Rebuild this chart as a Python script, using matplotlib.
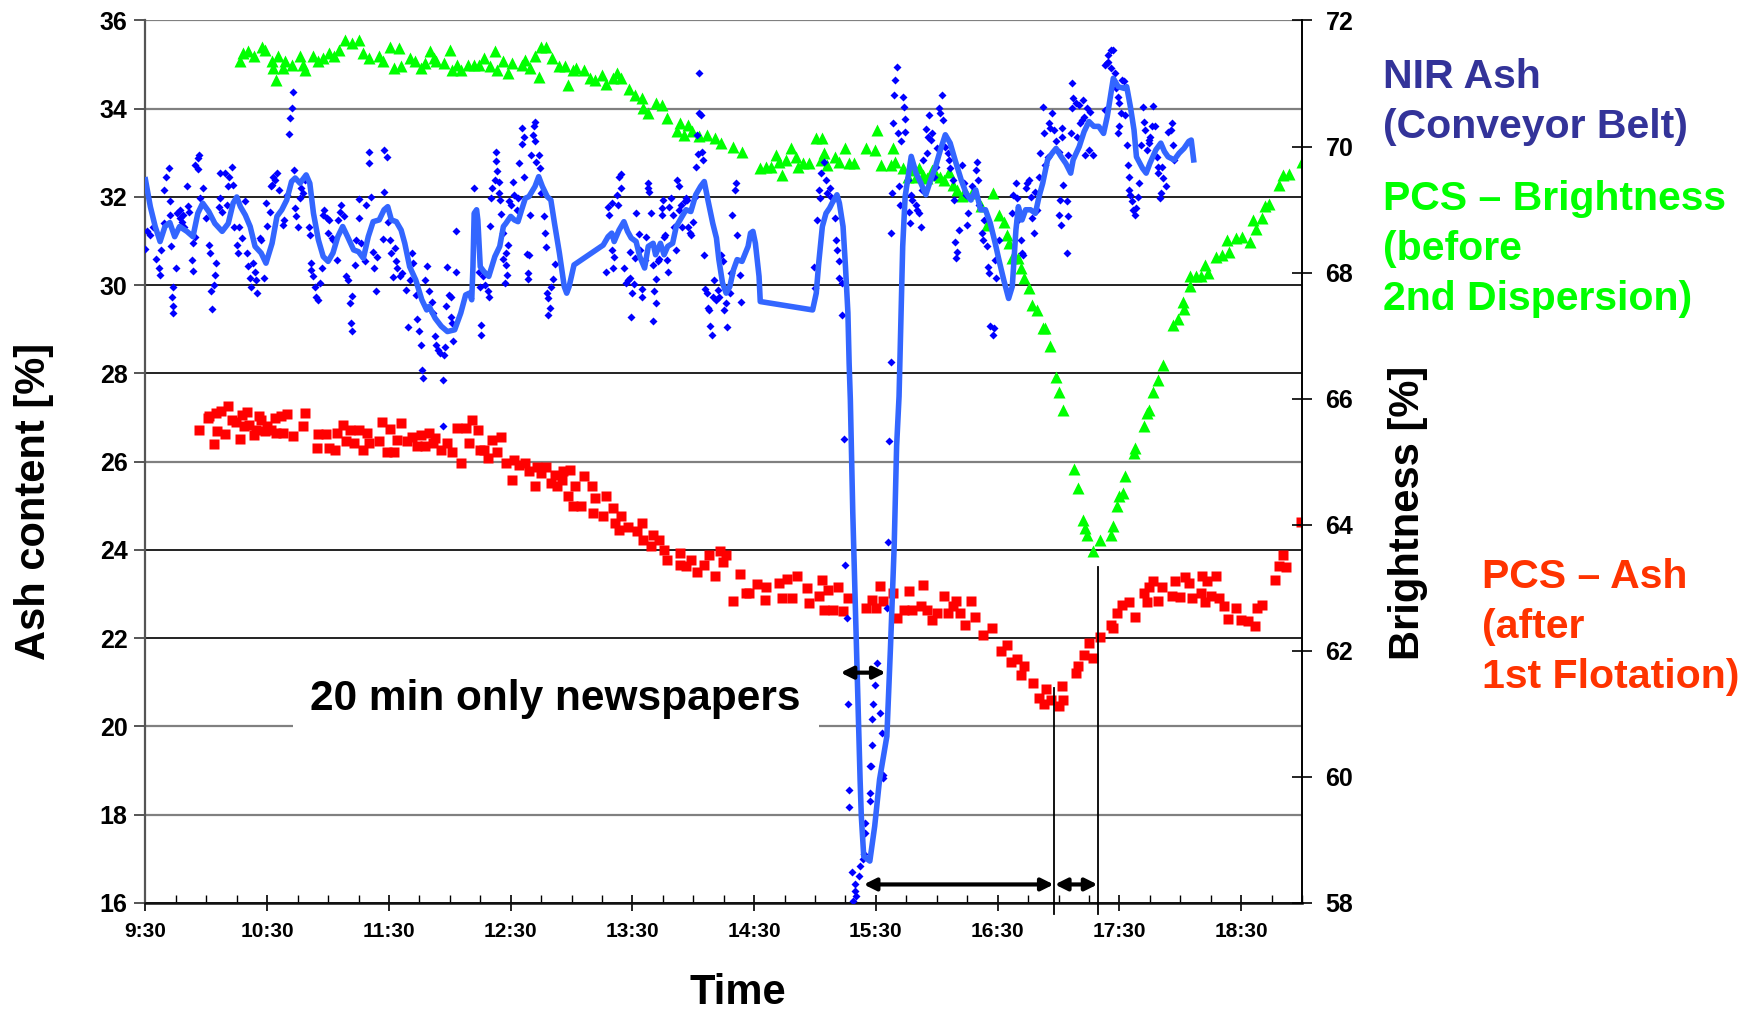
import matplotlib
matplotlib.use('Agg')
import matplotlib.pyplot as plt
from matplotlib.ticker import FixedLocator, MultipleLocator, FuncFormatter

plt.rcParams['font.family'] = ['Liberation Sans', 'DejaVu Sans']
plt.rcParams['font.weight'] = 'bold'

# Times are decimal hours of the day (9.5 = 9:30)

# NIR ash, single readings on the conveyor belt (left axis)
nir_time = [
    9.51, 9.50, 9.54, 9.56, 9.59, 9.61, 9.62, 9.63, 9.65, 9.65, 9.67, 9.69, 9.70, 9.70, 9.71, 9.73, 9.72, 9.73, 9.73, 9.75,
    9.76, 9.78, 9.78, 9.80, 9.81, 9.82, 9.84, 9.85, 9.86, 9.88, 9.89, 9.89, 9.91, 9.91, 9.93, 9.94, 9.93, 9.95, 9.97, 10.00,
    10.02, 10.03, 10.04, 10.05, 10.06, 10.07, 10.08, 10.10, 10.11, 10.11, 10.13, 10.15, 10.17, 10.18, 10.19, 10.21, 10.22, 10.23, 10.25, 10.26,
    10.27, 10.29, 10.32, 10.33, 10.34, 10.36, 10.37, 10.38, 10.40, 10.41, 10.42, 10.44, 10.45, 10.47, 10.49, 10.50, 10.52, 10.53, 10.54, 10.55,
    10.56, 10.58, 10.60, 10.63, 10.64, 10.66, 10.68, 10.69, 10.70, 10.71, 10.72, 10.73, 10.74, 10.75, 10.77, 10.78, 10.79, 10.81, 10.84, 10.85,
    10.86, 10.86, 10.88, 10.89, 10.90, 10.92, 10.93, 10.95, 10.96, 10.97, 10.99, 11.00, 11.01, 11.03, 11.04, 11.07, 11.08, 11.10, 11.11, 11.13,
    11.15, 11.16, 11.18, 11.19, 11.20, 11.20, 11.22, 11.23, 11.25, 11.25, 11.27, 11.30, 11.31, 11.34, 11.34, 11.35, 11.37, 11.38, 11.39, 11.40,
    11.45, 11.46, 11.46, 11.48, 11.49, 11.51, 11.52, 11.53, 11.55, 11.56, 11.57, 11.59, 11.61, 11.64, 11.66, 11.67, 11.69, 11.70, 11.72, 11.73,
    11.75, 11.76, 11.77, 11.78, 11.80, 11.81, 11.83, 11.85, 11.86, 11.88, 11.89, 11.90, 11.92, 11.94, 11.95, 11.96, 11.97, 11.98, 11.99, 12.01,
    12.03, 12.05, 12.05, 11.94, 12.01, 12.02, 12.20, 12.24, 12.25, 12.26, 12.26, 12.27, 12.29, 12.31, 12.32, 12.33, 12.34, 12.35, 12.37, 12.38,
    12.38, 12.39, 12.40, 12.40, 12.41, 12.42, 12.44, 12.44, 12.45, 12.46, 12.46, 12.47, 12.48, 12.49, 12.50, 12.52, 12.53, 12.55, 12.56, 12.57,
    12.59, 12.59, 12.61, 12.61, 12.63, 12.64, 12.64, 12.65, 12.66, 12.67, 12.68, 12.69, 12.70, 12.70, 12.71, 12.73, 12.74, 12.75, 12.77, 12.78,
    12.79, 12.80, 12.81, 12.81, 12.82, 12.83, 12.85, 12.86, 13.28, 13.30, 13.31, 13.33, 13.33, 13.34, 13.35, 13.37, 13.38, 13.39, 13.41, 13.41,
    13.43, 13.45, 13.46, 13.48, 13.48, 13.49, 13.50, 13.51, 13.52, 13.53, 13.55, 13.56, 13.58, 13.58, 13.60, 13.61, 13.63, 13.63, 13.64, 13.65,
    13.67, 13.67, 13.68, 13.69, 13.69, 13.71, 13.72, 13.74, 13.74, 13.75, 13.76, 13.77, 13.78, 13.79, 13.80, 13.82, 13.83, 13.84, 13.86, 13.87,
    13.88, 13.88, 13.90, 13.91, 13.93, 13.94, 13.95, 13.96, 13.97, 13.98, 14.00, 14.01, 14.02, 14.03, 14.04, 14.05, 14.06, 14.07, 14.08, 14.05,
    14.09, 14.10, 14.11, 14.12, 14.13, 14.14, 14.15, 14.16, 14.17, 14.19, 14.20, 14.21, 14.23, 14.24, 14.25, 14.27, 14.28, 14.30, 14.31, 14.32,
    14.34, 14.35, 14.36, 14.38, 14.39, 14.99, 15.00, 15.02, 15.03, 15.04, 15.05, 15.07, 15.09, 15.10, 15.12, 15.13, 15.16, 15.17, 15.18, 15.20,
    15.20, 15.22, 15.22, 15.62, 15.62, 15.63, 15.64, 15.65, 15.66, 15.67, 15.68, 15.69, 15.70, 15.71, 15.72, 15.73, 15.74, 15.74, 15.76, 15.77,
    15.78, 15.79, 15.80, 15.83, 15.84, 15.85, 15.87, 15.88, 15.89, 15.91, 15.92, 15.93, 15.94, 15.95, 15.96, 15.98, 15.99, 16.00, 16.02, 16.03,
    16.04, 16.05, 16.07, 16.09, 16.10, 16.11, 16.13, 16.14, 16.15, 16.16, 16.17, 16.18, 16.21, 16.22, 16.24, 16.25, 16.26, 16.29, 16.32, 16.33,
    16.34, 16.35, 16.37, 16.38, 16.39, 16.41, 16.42, 16.43, 16.44, 16.46, 16.47, 16.48, 16.49, 16.51, 16.62, 16.63, 16.65, 16.66, 16.67, 16.69,
    16.70, 16.71, 16.73, 16.74, 16.76, 16.77, 16.78, 16.80, 16.81, 16.82, 16.84, 16.85, 16.87, 16.88, 16.89, 16.91, 16.92, 16.93, 16.95, 16.96,
    16.98, 17.00, 17.03, 17.03, 17.04, 17.07, 17.08, 17.02, 17.07, 17.08, 17.10, 17.11, 17.11, 17.12, 17.14, 17.15, 17.17, 17.18, 17.19, 17.20,
    17.21, 17.22, 17.23, 17.25, 17.26, 17.28, 17.38, 17.38, 17.40, 17.41, 17.41, 17.43, 17.43, 17.45, 17.46, 17.47, 17.49, 17.50, 17.51, 17.52,
    17.54, 17.55, 17.50, 17.49, 17.56, 17.57, 17.58, 17.58, 17.59, 17.60, 17.61, 17.63, 17.64, 17.65, 17.66, 17.68, 17.69, 17.70, 17.71, 17.73,
    17.74, 17.74, 17.75, 17.77, 17.78, 17.79, 17.81, 17.82, 17.82, 17.84, 17.83, 17.85, 17.86, 17.88, 17.90, 17.92, 17.93, 17.94, 17.95, 17.01,
    17.00, 15.24, 15.61, 15.60, 15.25, 15.26, 15.59, 15.51, 15.49, 15.27, 15.48, 15.53, 15.47, 15.55, 15.47, 15.46, 15.56, 15.28, 15.28, 15.45,
    15.45, 15.45, 15.56, 15.41, 15.41, 15.40, 15.39, 15.37, 15.30, 15.36, 15.33, 15.33, 15.34, 15.31,
]
nir_ash = [
    31.22, 30.82, 31.14, 31.33, 30.59, 30.39, 30.24, 30.79, 31.40, 32.16, 32.46, 32.65, 31.90, 31.59, 30.88, 29.96, 29.73, 29.53, 29.37, 30.39,
    31.63, 31.52, 31.71, 31.44, 31.59, 31.33, 32.24, 31.80, 31.67, 30.58, 30.33, 30.95, 31.10, 32.73, 32.88, 32.95, 32.63, 31.97, 32.20, 31.52,
    30.91, 30.74, 29.88, 29.47, 30.01, 30.24, 30.50, 31.78, 32.55, 31.97, 31.67, 32.54, 31.82, 32.24, 32.46, 32.67, 32.27, 31.33, 30.91, 30.73,
    31.33, 31.07, 31.90, 30.73, 30.44, 30.16, 29.97, 30.50, 30.31, 30.12, 29.82, 31.07, 31.03, 30.16, 31.86, 31.35, 31.67, 32.24, 32.27, 32.46,
    32.39, 32.54, 32.16, 31.37, 31.48, 32.05, 33.43, 33.78, 34.01, 34.37, 32.61, 31.74, 31.56, 31.33, 31.97, 32.20, 32.09, 32.39, 31.33, 31.14,
    30.51, 30.35, 30.20, 29.97, 29.74, 29.67, 30.05, 30.39, 31.59, 31.71, 31.52, 31.18, 31.48, 31.07, 31.03, 30.58, 31.48, 31.67, 31.82, 31.56,
    30.20, 30.12, 29.59, 29.14, 28.97, 29.76, 30.46, 31.03, 31.52, 31.95, 30.95, 30.54, 31.82, 33.01, 32.78, 32.01, 30.76, 30.39, 29.88, 30.65,
    31.04, 32.12, 33.07, 32.90, 31.44, 31.03, 30.73, 30.18, 30.84, 30.54, 30.39, 30.20, 30.27, 29.90, 29.05, 30.12, 30.73, 30.51, 29.78, 29.23,
    28.97, 28.65, 28.08, 27.89, 30.12, 30.44, 29.86, 29.63, 29.37, 28.85, 28.65, 28.54, 28.46, 27.86, 28.42, 28.61, 29.52, 30.42, 29.78, 29.29,
    28.73, 30.31, 31.24, 26.81, 29.74, 29.14, 32.20, 30.31, 29.97, 29.10, 28.87, 30.20, 30.01, 29.86, 29.74, 31.35, 31.97, 32.20, 32.39, 32.82,
    33.01, 32.58, 32.09, 32.35, 31.93, 31.62, 31.18, 30.59, 30.06, 30.46, 30.74, 30.24, 30.91, 31.90, 31.82, 32.35, 32.05, 31.71, 31.97, 32.77,
    33.20, 33.56, 33.37, 32.46, 30.71, 30.27, 30.14, 30.69, 31.59, 32.95, 33.41, 33.60, 33.71, 33.26, 32.80, 32.95, 32.65, 32.09, 31.56, 31.18,
    30.86, 29.82, 29.71, 29.33, 29.48, 29.97, 30.14, 30.48, 30.31, 31.78, 31.59, 31.86, 30.80, 30.39, 30.65, 32.05, 31.82, 32.46, 32.52, 32.20,
    30.39, 30.05, 30.12, 30.16, 30.76, 29.28, 29.82, 30.03, 30.61, 31.63, 31.16, 30.80, 29.74, 29.91, 30.58, 31.10, 32.20, 32.31, 32.12, 31.63,
    30.46, 29.20, 29.88, 29.59, 30.14, 30.54, 30.59, 31.74, 31.59, 31.93, 31.10, 31.14, 30.58, 30.31, 31.78, 31.97, 31.59, 31.33, 30.80, 32.39,
    32.25, 31.71, 31.82, 31.33, 31.90, 31.97, 31.93, 31.33, 31.18, 31.14, 31.44, 32.01, 32.69, 33.41, 32.98, 33.90, 33.86, 33.03, 32.84, 34.82,
    30.69, 29.91, 29.82, 29.48, 29.44, 29.08, 28.88, 29.73, 30.12, 29.67, 29.89, 29.74, 30.69, 30.54, 29.44, 29.59, 29.06, 29.82, 30.27, 31.59,
    32.16, 32.31, 31.14, 30.24, 29.63, 30.42, 29.93, 31.48, 32.16, 31.97, 32.54, 32.80, 32.39, 32.09, 32.20, 32.01, 31.52, 31.03, 30.80, 30.54,
    30.16, 30.05, 29.33, 28.27, 31.19, 32.09, 33.67, 34.31, 34.65, 34.95, 33.44, 32.24, 31.82, 33.26, 34.27, 34.05, 33.76, 33.48, 32.39, 31.67,
    31.40, 32.05, 31.93, 31.82, 31.71, 31.63, 31.33, 32.16, 32.84, 33.53, 33.00, 33.37, 33.86, 33.29, 33.44, 32.46, 32.69, 33.10, 34.01, 33.90,
    34.31, 33.75, 33.14, 33.00, 32.84, 32.65, 32.39, 31.93, 30.99, 30.61, 30.76, 31.25, 32.73, 32.31, 32.05, 31.37, 31.63, 32.24, 32.61, 32.80,
    32.39, 31.82, 31.18, 31.03, 31.48, 30.88, 30.42, 30.27, 29.07, 28.88, 29.03, 30.58, 30.16, 31.03, 31.63, 32.05, 32.31, 31.97, 31.48, 31.03,
    30.73, 30.69, 32.20, 32.31, 32.39, 32.01, 31.52, 31.18, 32.12, 31.71, 32.46, 32.99, 34.05, 33.44, 32.73, 32.90, 33.67, 33.56, 33.90, 33.52,
    33.26, 33.03, 33.56, 33.37, 32.27, 31.90, 31.56, 31.37, 30.72, 32.95, 33.44, 34.01, 34.58, 34.24, 34.12, 33.37, 34.09, 33.67, 33.75, 34.20,
    33.82, 32.95, 34.01, 33.07, 33.93, 32.95, 33.97, 34.99, 35.03, 35.22, 35.07, 35.33, 34.92, 35.32, 34.80, 34.46, 34.27, 34.12, 33.90, 34.65,
    34.62, 33.86, 33.60, 33.44, 33.18, 32.73, 32.46, 32.16, 32.05, 31.90, 31.71, 31.60, 31.75, 32.01, 32.31, 33.18, 34.05, 33.71, 33.52, 33.07,
    33.29, 33.22, 33.37, 33.61, 34.06, 33.60, 32.91, 32.54, 32.69, 32.09, 31.97, 32.69, 32.42, 32.24, 33.48, 33.52, 33.67, 33.18, 32.84, 31.93,
    31.60, 26.51, 26.47, 24.18, 23.65, 22.46, 22.69, 21.44, 20.95, 20.51, 20.51, 20.31, 20.17, 19.85, 19.57, 19.10, 18.91, 18.56, 18.18, 19.10,
    18.49, 18.31, 18.84, 17.82, 17.59, 17.12, 16.99, 16.83, 16.70, 16.61, 16.44, 16.27, 16.15, 16.04,
]

# NIR ash, moving average line
avg_time = [
    9.50, 9.54, 9.58, 9.62, 9.66, 9.70, 9.74, 9.78, 9.84, 9.89, 9.93, 9.97, 10.02, 10.07, 10.13, 10.18, 10.22, 10.25, 10.28, 10.32,
    10.36, 10.40, 10.45, 10.49, 10.54, 10.58, 10.62, 10.66, 10.70, 10.73, 10.77, 10.79, 10.82, 10.85, 10.88, 10.92, 10.96, 11.00, 11.04, 11.08,
    11.12, 11.16, 11.21, 11.25, 11.29, 11.33, 11.37, 11.42, 11.46, 11.49, 11.52, 11.56, 11.60, 11.63, 11.67, 11.72, 11.77, 11.81, 11.83, 11.88,
    11.93, 11.98, 12.04, 12.09, 12.13, 12.16, 12.18, 12.19, 12.20, 12.22, 12.23, 12.25, 12.28, 12.32, 12.37, 12.41, 12.44, 12.46, 12.50, 12.53,
    12.56, 12.59, 12.62, 12.65, 12.70, 12.73, 12.76, 12.80, 12.83, 12.86, 12.90, 12.94, 12.96, 12.98, 13.02, 13.26, 13.30, 13.33, 13.35, 13.39,
    13.43, 13.46, 13.49, 13.53, 13.56, 13.60, 13.63, 13.67, 13.69, 13.73, 13.76, 13.79, 13.83, 13.86, 13.90, 13.94, 13.98, 14.02, 14.06, 14.09,
    14.12, 14.16, 14.19, 14.21, 14.24, 14.27, 14.30, 14.33, 14.36, 14.40, 14.45, 14.47, 14.49, 14.51, 14.54, 14.55, 14.98, 15.01, 15.03, 15.06,
    15.09, 15.12, 15.14, 15.18, 15.20, 15.23, 15.25, 15.27, 15.28, 15.29, 15.31, 15.34, 15.37, 15.38, 15.40, 15.45, 15.49, 15.53, 15.59, 15.62,
    15.65, 15.67, 15.69, 15.72, 15.74, 15.79, 15.83, 15.87, 15.91, 15.95, 15.99, 16.03, 16.07, 16.11, 16.15, 16.20, 16.24, 16.28, 16.32, 16.36,
    16.40, 16.44, 16.48, 16.51, 16.55, 16.59, 16.62, 16.65, 16.67, 16.70, 16.73, 16.77, 16.81, 16.84, 16.87, 16.91, 16.95, 16.98, 17.02, 17.06,
    17.10, 17.12, 17.17, 17.21, 17.25, 17.29, 17.33, 17.37, 17.40, 17.43, 17.45, 17.49, 17.54, 17.56, 17.59, 17.62, 17.64, 17.69, 17.72, 17.75,
    17.80, 17.84, 17.87, 17.90, 17.95, 17.99, 18.03, 18.07, 18.09, 18.11,
]
avg_ash = [
    32.39, 31.78, 31.33, 30.99, 31.33, 31.42, 31.10, 31.33, 31.22, 31.10, 31.63, 31.86, 31.67, 31.40, 31.22, 31.40, 31.86, 32.00, 31.78, 31.59,
    31.33, 30.88, 30.73, 30.50, 30.95, 31.56, 31.71, 31.93, 32.35, 32.43, 32.31, 32.39, 32.50, 32.31, 31.63, 31.03, 30.65, 30.54, 30.73, 31.10,
    31.33, 31.10, 30.80, 30.76, 30.61, 31.10, 31.44, 31.48, 31.71, 31.78, 31.48, 31.44, 31.25, 30.95, 30.42, 30.12, 29.67, 29.44, 29.52, 29.25,
    29.07, 28.95, 28.99, 29.37, 29.78, 29.82, 29.67, 30.42, 31.63, 31.71, 31.48, 30.42, 30.31, 30.20, 30.65, 30.88, 31.33, 31.40, 31.56, 31.48,
    31.44, 31.71, 31.97, 32.01, 32.24, 32.46, 32.24, 32.01, 31.93, 31.40, 30.73, 29.97, 29.82, 29.97, 30.46, 30.91, 31.10, 31.18, 30.99, 31.25,
    31.44, 31.22, 31.07, 30.99, 30.65, 30.39, 30.88, 30.95, 30.69, 30.95, 30.69, 30.88, 30.95, 31.33, 31.52, 31.71, 31.67, 32.05, 32.24, 32.35,
    31.93, 31.40, 31.07, 30.58, 30.05, 29.82, 29.97, 30.35, 30.58, 30.54, 30.88, 31.18, 31.22, 30.95, 30.20, 29.63, 29.44, 29.82, 30.50, 31.33,
    31.63, 31.75, 31.86, 32.05, 31.86, 31.33, 30.42, 29.37, 28.23, 27.40, 24.84, 21.82, 18.80, 17.97, 17.06, 16.95, 17.74, 18.80, 19.78, 21.82,
    24.08, 26.35, 27.48, 30.88, 32.01, 32.92, 32.54, 32.31, 32.05, 32.39, 32.69, 33.07, 33.41, 33.22, 32.84, 32.39, 32.09, 31.93, 32.16, 31.71,
    31.71, 31.40, 30.95, 30.58, 30.12, 29.70, 29.97, 31.25, 31.78, 31.48, 31.71, 31.71, 31.63, 32.01, 32.31, 32.84, 33.00, 33.10, 32.92, 32.76,
    32.54, 32.84, 33.14, 33.48, 33.71, 33.60, 33.60, 33.44, 33.82, 34.35, 34.69, 34.50, 34.46, 34.50, 34.05, 33.52, 32.91, 32.65, 32.54, 32.76,
    33.07, 33.22, 33.03, 32.91, 32.84, 32.99, 33.10, 33.26, 33.29, 32.84,
]

# PCS brightness before 2nd dispersion (right axis)
bright_time = [
    10.28, 10.30, 10.34, 10.39, 10.46, 10.48, 10.54, 10.55, 10.57, 10.59, 10.63, 10.65, 10.70, 10.77, 10.79, 10.81, 10.88, 10.92, 10.96, 11.01,
    11.05, 11.09, 11.14, 11.20, 11.25, 11.29, 11.34, 11.42, 11.45, 11.51, 11.54, 11.58, 11.60, 11.67, 11.71, 11.76, 11.80, 11.84, 11.87, 11.89,
    11.95, 12.00, 12.02, 12.06, 12.09, 12.15, 12.20, 12.24, 12.28, 12.33, 12.37, 12.39, 12.44, 12.48, 12.51, 12.59, 12.62, 12.66, 12.70, 12.73,
    12.75, 12.79, 12.84, 12.90, 12.95, 12.97, 13.01, 13.04, 13.10, 13.15, 13.19, 13.25, 13.28, 13.34, 13.37, 13.41, 13.47, 13.52, 13.58, 13.59,
    13.63, 13.69, 13.74, 13.78, 13.87, 13.89, 13.92, 13.96, 13.99, 14.05, 14.11, 14.18, 14.23, 14.33, 14.40, 14.55, 14.60, 14.64, 14.68, 14.70,
    14.73, 14.76, 14.80, 14.84, 14.86, 14.90, 14.95, 15.01, 15.06, 15.05, 15.07, 15.10, 15.16, 15.20, 15.25, 15.28, 15.32, 15.42, 15.49, 15.51,
    15.54, 15.62, 15.64, 15.66, 15.72, 15.76, 15.80, 15.83, 15.85, 15.89, 15.92, 15.96, 15.99, 16.03, 16.06, 16.10, 16.13, 16.17, 16.21, 16.25,
    16.29, 16.36, 16.46, 16.41, 16.51, 16.55, 16.58, 16.59, 16.62, 16.67, 16.69, 16.72, 16.76, 16.78, 16.82, 16.87, 16.89, 16.93, 16.98, 17.00,
    17.04, 17.13, 17.16, 17.20, 17.22, 17.23, 17.28, 17.34, 17.43, 17.45, 17.48, 17.50, 17.53, 17.55, 17.62, 17.63, 17.70, 17.73, 17.74, 17.78,
    17.82, 17.86, 17.94, 17.98, 18.02, 18.03, 18.08, 18.08, 18.13, 18.17, 18.20, 18.23, 18.29, 18.34, 18.38, 18.40, 18.46, 18.51, 18.57, 18.62,
    18.60, 18.67, 18.70, 18.73, 18.81, 18.84, 18.89, 19.00,
]
brightness = [
    71.35, 71.48, 71.51, 71.43, 71.58, 71.53, 71.35, 71.24, 71.06, 71.43, 71.24, 71.35, 71.29, 71.43, 71.29, 71.21, 71.43, 71.35, 71.40, 71.48,
    71.43, 71.53, 71.69, 71.64, 71.69, 71.48, 71.40, 71.43, 71.35, 71.58, 71.24, 71.56, 71.27, 71.40, 71.35, 71.24, 71.32, 71.51, 71.40, 71.35,
    71.32, 71.53, 71.21, 71.29, 71.21, 71.29, 71.29, 71.29, 71.40, 71.27, 71.51, 71.21, 71.35, 71.16, 71.32, 71.29, 71.37, 71.24, 71.43, 71.11,
    71.58, 71.58, 71.40, 71.27, 71.27, 70.98, 71.21, 71.24, 71.21, 71.08, 71.06, 71.14, 71.00, 71.08, 71.16, 71.08, 70.92, 70.82, 70.77, 70.61,
    70.53, 70.69, 70.66, 70.45, 70.24, 70.37, 70.18, 70.34, 70.24, 70.16, 70.18, 70.13, 70.05, 70.00, 69.92, 69.66, 69.68, 69.67, 69.87, 69.76,
    69.55, 69.79, 69.97, 69.84, 69.68, 69.74, 69.74, 70.13, 70.13, 69.79, 69.89, 69.71, 69.84, 69.76, 69.97, 69.74, 69.74, 69.97, 69.95, 70.26,
    69.71, 69.71, 69.97, 69.76, 69.66, 69.52, 69.63, 69.52, 69.66, 69.55, 69.50, 69.63, 69.55, 69.52, 69.47, 69.60, 69.39, 69.31, 69.21, 69.23,
    69.26, 69.05, 69.26, 68.76, 68.92, 68.81, 68.60, 68.47, 68.23, 68.23, 68.07, 67.91, 67.75, 67.49, 67.41, 67.12, 67.12, 66.83, 66.35, 66.10,
    65.82, 64.88, 64.58, 64.08, 63.95, 63.84, 63.59, 63.76, 63.84, 63.98, 64.30, 64.45, 64.51, 64.77, 65.14, 65.22, 65.56, 65.78, 65.82, 66.10,
    66.30, 66.53, 67.17, 67.27, 67.54, 67.43, 67.78, 67.94, 67.94, 67.94, 68.12, 67.99, 68.25, 68.28, 68.52, 68.32, 68.55, 68.57, 68.49, 68.69,
    68.84, 68.86, 69.05, 69.09, 69.39, 69.55, 69.57, 69.75,
]

# PCS ash after 1st flotation (left axis)
pcs_time = [
    9.94, 10.01, 10.02, 10.06, 10.08, 10.09, 10.12, 10.15, 10.18, 10.21, 10.24, 10.28, 10.29, 10.31, 10.33, 10.35, 10.39, 10.41, 10.43, 10.45,
    10.48, 10.50, 10.53, 10.56, 10.57, 10.61, 10.63, 10.66, 10.71, 10.79, 10.81, 10.91, 10.92, 10.98, 11.01, 11.06, 11.07, 11.12, 11.15, 11.18,
    11.21, 11.25, 11.29, 11.32, 11.34, 11.42, 11.44, 11.48, 11.51, 11.54, 11.57, 11.60, 11.65, 11.69, 11.73, 11.76, 11.80, 11.83, 11.86, 11.88,
    11.93, 11.98, 12.02, 12.06, 12.09, 12.13, 12.16, 12.18, 12.23, 12.25, 12.28, 12.31, 12.35, 12.39, 12.42, 12.46, 12.51, 12.53, 12.57, 12.62,
    12.65, 12.70, 12.72, 12.75, 12.79, 12.83, 12.86, 12.88, 12.92, 12.93, 12.97, 12.99, 13.03, 13.01, 13.08, 13.10, 13.17, 13.19, 13.18, 13.26,
    13.28, 13.34, 13.36, 13.39, 13.41, 13.46, 13.54, 13.58, 13.59, 13.65, 13.67, 13.72, 13.76, 13.78, 13.89, 13.89, 13.94, 13.98, 14.03, 14.09,
    14.13, 14.18, 14.22, 14.24, 14.27, 14.33, 14.38, 14.43, 14.46, 14.52, 14.59, 14.60, 14.70, 14.73, 14.77, 14.81, 14.85, 14.93, 14.95, 15.03,
    15.06, 15.07, 15.11, 15.15, 15.19, 15.23, 15.27, 15.42, 15.47, 15.50, 15.53, 15.56, 15.64, 15.67, 15.73, 15.77, 15.80, 15.89, 15.87, 15.92,
    15.96, 16.00, 16.06, 16.09, 16.13, 16.16, 16.19, 16.23, 16.28, 16.31, 16.38, 16.45, 16.53, 16.58, 16.61, 16.66, 16.69, 16.72, 16.79, 16.84,
    16.90, 16.88, 16.94, 17.00, 17.04, 17.03, 17.14, 17.16, 17.21, 17.25, 17.28, 17.34, 17.43, 17.45, 17.48, 17.52, 17.58, 17.63, 17.70, 17.73,
    17.74, 17.78, 17.82, 17.85, 17.93, 17.96, 18.00, 18.04, 18.07, 18.10, 18.17, 18.18, 18.20, 18.22, 18.25, 18.29, 18.32, 18.36, 18.39, 18.46,
    18.50, 18.56, 18.61, 18.63, 18.67, 18.78, 18.81, 18.84, 18.87, 18.99,
]
pcs_ash = [
    26.72, 26.99, 27.04, 26.41, 27.10, 26.69, 27.14, 26.63, 27.27, 26.95, 26.91, 26.51, 27.06, 26.80, 27.12, 26.84, 26.61, 26.72, 27.03, 26.95,
    26.69, 26.80, 26.71, 26.99, 26.65, 27.04, 26.65, 27.09, 26.59, 26.80, 27.10, 26.31, 26.63, 26.63, 26.31, 26.26, 26.65, 26.84, 26.48, 26.72,
    26.42, 26.72, 26.26, 26.65, 26.42, 26.46, 26.89, 26.23, 26.74, 26.21, 26.50, 26.88, 26.48, 26.56, 26.35, 26.61, 26.35, 26.65, 26.42, 26.54,
    26.27, 26.42, 26.23, 26.76, 25.98, 26.76, 26.42, 26.95, 26.71, 26.26, 26.27, 26.08, 26.50, 26.23, 26.57, 25.97, 25.59, 26.05, 25.93, 25.98,
    25.78, 25.44, 25.88, 25.74, 25.88, 25.52, 25.71, 25.44, 25.59, 25.78, 25.22, 25.82, 25.44, 24.99, 24.99, 25.67, 25.46, 25.18, 24.84, 24.76,
    25.23, 24.95, 24.61, 24.46, 24.76, 24.53, 24.42, 24.61, 24.23, 24.08, 24.35, 24.23, 24.01, 23.78, 23.93, 23.67, 23.63, 23.78, 23.49, 23.67,
    23.89, 23.40, 23.97, 23.72, 23.89, 22.84, 23.46, 23.02, 23.02, 23.24, 22.87, 23.17, 23.25, 22.91, 23.34, 22.91, 23.40, 23.14, 22.80, 22.95,
    23.33, 22.65, 23.10, 22.65, 23.16, 22.61, 22.91, 22.69, 22.87, 22.69, 23.19, 22.84, 23.02, 22.46, 22.65, 23.06, 22.65, 23.21, 22.72, 22.65,
    22.41, 22.57, 22.96, 22.57, 22.72, 22.84, 22.57, 22.29, 22.84, 22.48, 22.08, 22.23, 21.70, 21.85, 21.46, 21.53, 21.17, 21.36, 20.99, 20.65,
    20.85, 20.50, 20.61, 20.47, 20.61, 20.91, 21.21, 21.36, 21.63, 21.89, 21.55, 22.03, 22.31, 22.23, 22.57, 22.76, 22.81, 22.48, 23.02, 22.81,
    23.16, 23.29, 22.84, 23.16, 22.95, 23.29, 22.93, 23.39, 23.25, 22.91, 23.02, 23.40, 22.81, 23.29, 22.95, 23.40, 22.91, 22.72, 22.44, 22.69,
    22.41, 22.38, 22.27, 22.69, 22.76, 23.33, 23.64, 23.89, 23.61, 24.63,
]

# annotation positions (hours / ash %)
newspaper_span = (15.21, 15.58)
delay_spans = [(15.40, 16.96), (16.97, 17.32)]
marker_lines = [(16.96, 20.88), (17.325, 23.62)]

fig = plt.figure(figsize=(17.59, 10.13), dpi=100)
ax = fig.add_axes([0.0827, 0.1086, 0.6575, 0.8712])
ax2 = ax.twinx()

ax.set_xlim(9.5, 19.0)
ax.set_ylim(16, 36)
ax2.set_ylim(58, 72)

# grid lines, the original alternates grey and black
ax.set_yticks([16, 18, 20, 22, 24, 26, 28, 30, 32, 34, 36])
ax.yaxis.grid(True, zorder=0)
grid_cols = ['#000000', '#808080', '#808080', '#111111', '#111111', '#808080', '#111111', '#111111', '#111111', '#808080', '#808080']
for gl, c in zip(ax.get_ygridlines(), grid_cols):
    gl.set_color(c)
    gl.set_linewidth(1.6 if c == '#808080' else 1.3)
ax.set_axisbelow(True)

# data
ax.plot(pcs_time, pcs_ash, 's', color='#ff0000', ms=7.9, mec='none', zorder=3)
ax.plot(bright_time, brightness, '^', color='#00ff00', ms=9, mec='none', zorder=3.5,
        transform=ax2.transData)
ax.plot(nir_time, nir_ash, 'D', color='#0000ff', ms=4.3, mec='none', zorder=4)
ax.plot(avg_time, avg_ash, '-', color='#3366ff', lw=4.0, zorder=5, solid_joinstyle='round')

# annotations
ax.text(12.87, 20.62, '20 min only newspapers', fontsize=30.5, fontweight='bold', ha='center', va='center',
        zorder=6, bbox=dict(boxstyle='square,pad=0.42', facecolor='white', edgecolor='none'))
ax.annotate('', xy=(newspaper_span[1], 21.22), xytext=(newspaper_span[0], 21.22),
            arrowprops=dict(arrowstyle='<|-|>', color='black', lw=3, mutation_scale=18, shrinkA=0, shrinkB=0),
            zorder=7)
for t0, t1 in delay_spans:
    ax.annotate('', xy=(t1, 16.42), xytext=(t0, 16.42),
                arrowprops=dict(arrowstyle='<|-|>', color='black', lw=3, mutation_scale=18, shrinkA=0, shrinkB=0),
                zorder=7)
for t, top in marker_lines:
    ax.plot([t, t], [15.75, top], color='black', lw=1.3, clip_on=False, zorder=6)

# axes styling
for s in ['top', 'right']:
    ax.spines[s].set_visible(False)
ax.spines['left'].set_color('#555555')
ax.spines['left'].set_linewidth(1.6)
ax.spines['bottom'].set_color('#111111')
ax.spines['bottom'].set_linewidth(1.8)
for s in ['top', 'left', 'bottom']:
    ax2.spines[s].set_visible(False)
ax2.spines['right'].set_color('black')
ax2.spines['right'].set_linewidth(1.4)

ax.xaxis.set_major_locator(FixedLocator([9.5 + i for i in range(10)]))
ax.xaxis.set_minor_locator(MultipleLocator(0.25))
ax.xaxis.set_major_formatter(FuncFormatter(lambda h, p: f"{int(h)}:{int(round((h % 1) * 60)):02d}"))
ax.tick_params(axis='x', which='major', direction='inout', length=12, width=1.2, labelsize=15, pad=8)
ax.tick_params(axis='x', which='minor', direction='in', length=6, width=1.0)
ax.tick_params(axis='y', direction='out', length=8, width=1.4, color='#555555', labelsize=18, pad=5)
ax2.set_yticks([58, 60, 62, 64, 66, 68, 70, 72])
ax2.tick_params(axis='y', direction='inout', length=14, width=1.2, labelsize=18, pad=10)
for lab in ax.get_xticklabels() + ax.get_yticklabels() + ax2.get_yticklabels():
    lab.set_fontweight('bold')

# axis titles and series labels
W, H = 1759, 1013
fig.text(34 / W, 1 - 501 / H, 'Ash content [%]', rotation=90, fontsize=30, fontweight='bold', ha='center', va='center')
fig.text(1408 / W, 1 - 513 / H, 'Brightness [%]', rotation=90, fontsize=30, fontweight='bold', ha='center', va='center')
fig.text(738 / W, 1 - 993 / H, 'Time', fontsize=30, fontweight='bold', ha='center', va='center')
fig.text(1383 / W, 1 - 58 / H, 'NIR Ash\n(Conveyor Belt)', color='#333399', fontsize=29.5, fontweight='bold',
         ha='left', va='top', linespacing=1.4)
fig.text(1383 / W, 1 - 180 / H, 'PCS \u2013 Brightness\n(before\n2nd Dispersion)', color='#00ff00', fontsize=29.5,
         fontweight='bold', ha='left', va='top', linespacing=1.4)
fig.text(1482 / W, 1 - 558 / H, 'PCS \u2013 Ash\n(after\n1st Flotation)', color='#ff3300', fontsize=29.5,
         fontweight='bold', ha='left', va='top', linespacing=1.4)

fig.savefig('out.png', dpi=100, facecolor='white')
plt.close(fig)
